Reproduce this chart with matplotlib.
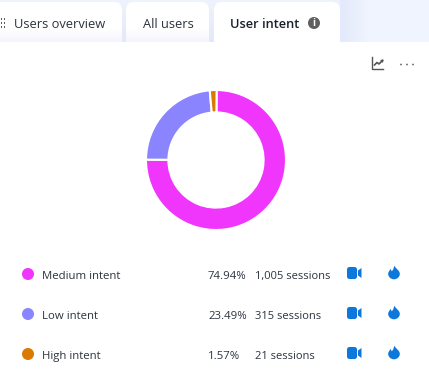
"""User intent donut card with tab strip and legend rows."""

import matplotlib
matplotlib.use("Agg")
import matplotlib.pyplot as plt
import numpy as np
from matplotlib.colors import LinearSegmentedColormap
from matplotlib.patches import Circle, FancyBboxPatch, PathPatch, Polygon, Rectangle
from matplotlib.path import Path

plt.rcParams["font.family"] = ["Open Sans", "DejaVu Sans"]

intent_labels = ["Medium intent", "Low intent", "High intent"]
session_counts = [1005, 315, 21]
share_labels = ["74.94%", "23.49%", "1.57%"]
session_labels = ["1,005 sessions", "315 sessions", "21 sessions"]
intent_colors = ["#f035fd", "#8a84ff", "#da7a00"]
tab_labels = ["Users overview", "All users", "User intent"]

W, H = 429, 384
TEXT = "#2c333e"
BLUE = "#0c78dc"


def gradient(ax, extent, c0, c1, horizontal=False, zorder=1):
    cmap = LinearSegmentedColormap.from_list("g", [c0, c1])
    ramp = np.linspace(0, 1, 64).reshape(-1, 1)
    if horizontal:
        ramp = ramp.T
    ax.imshow(ramp, extent=extent, cmap=cmap, aspect="auto", origin="upper", zorder=zorder, interpolation="bilinear")


def draw_tab(ax, x0, x1):
    ax.add_patch(FancyBboxPatch((x0, 2), x1 - x0, 50, boxstyle="round,pad=0,rounding_size=8",
                                fc="white", ec="none", zorder=2))


def draw_camera(ax, x, y):
    ax.add_patch(FancyBboxPatch((x, y - 6), 10, 12, boxstyle="round,pad=0,rounding_size=2.5",
                                fc=BLUE, ec="none", zorder=5))
    ax.add_patch(Polygon([(x + 11, y - 2.5), (x + 14.5, y - 5), (x + 14.5, y + 5), (x + 11, y + 2.5)],
                         fc=BLUE, ec="none", zorder=5))


def draw_flame(ax, x, y):
    codes = [Path.MOVETO,
             Path.CURVE4, Path.CURVE4, Path.CURVE4,
             Path.CURVE4, Path.CURVE4, Path.CURVE4,
             Path.CURVE4, Path.CURVE4, Path.CURVE4,
             Path.CURVE4, Path.CURVE4, Path.CURVE4,
             Path.LINETO, Path.LINETO, Path.CLOSEPOLY]
    verts = [(x + 0.5, y - 7),
             (x + 1, y - 4), (x + 5.8, y - 2.5), (x + 5.8, y + 1.5),
             (x + 5.8, y + 4.5), (x + 3, y + 6.8), (x, y + 6.8),
             (x - 3, y + 6.8), (x - 5.8, y + 4.5), (x - 5.8, y + 1.5),
             (x - 5.8, y - 0.5), (x - 4.5, y - 2), (x - 3.5, y - 3.5),
             (x - 2.2, y - 1.2), (x - 0.8, y - 3), (x + 0.5, y - 7)]
    ax.add_patch(PathPatch(Path(verts, codes), fc=BLUE, ec="none", zorder=5))


fig = plt.figure(figsize=(W / 100, H / 100), dpi=100)
ax = fig.add_axes([0, 0, 1, 1])

# tab strip, paler at the top, lilac glow around the tabs
gradient(ax, (0, 345, 42, 0), "#eff3fd", "#e3e8fb", zorder=0)
ax.add_patch(Rectangle((345, 0), W - 345, 42, fc="#eff4fe", ec="none", zorder=0))
gradient(ax, (340, 368, 42, 0), "#e4e9fb", "#eff4fe", horizontal=True, zorder=0.5)
draw_tab(ax, -10, 122)
draw_tab(ax, 126, 209)
draw_tab(ax, 214, 340)

# inactive tabs fade to lilac at the bottom
for x0, x1 in ((0, 122), (126, 209)):
    gradient(ax, (x0, x1, 42, 28), "#ffffff", "#f5f4fe", zorder=2.5)
ax.add_patch(Rectangle((0, 42), W, H - 42, fc="white", ec="none", zorder=3))
ax.add_patch(Rectangle((214, 30), 126, 14, fc="white", ec="none", zorder=3))
ax.set_xlim(0, W)
ax.set_ylim(H, 0)
ax.axis("off")

ax.text(14, 28, tab_labels[0], fontsize=9.25, color=TEXT, va="baseline", zorder=4)
ax.text(143, 28, tab_labels[1], fontsize=9.25, color=TEXT, va="baseline", zorder=4)
ax.text(230, 28, tab_labels[2], fontsize=9.2, color="#1a202b", va="baseline", fontweight="semibold", zorder=4)
ax.add_patch(Circle((314, 23), 6, fc="#5f5f5f", ec="none", zorder=4))
ax.text(314, 23, "i", fontsize=7, color="white", ha="center", va="center", fontweight="bold", zorder=5)
for gx in (0.5, 3.5):
    for gy in (19, 23, 27):
        ax.add_patch(Rectangle((gx, gy - 1), 1.6, 1.6, fc="#555b66", ec="none", zorder=4))

# chart icon and more menu
ax.plot([372, 372, 383], [57, 68.5, 68.5], color="#555", lw=1.0, zorder=4)
ax.plot([374.5, 377, 379, 382.5], [65, 62.5, 64, 60.5], color="#555", lw=1.2, zorder=4)
ax.add_patch(Polygon([(380, 60), (383.5, 59.5), (383, 63)], fc="#555", ec="none", zorder=4))
for dx in (401, 407, 413):
    ax.add_patch(Circle((dx, 64.5), 0.9, fc="#666", ec="none", zorder=4))

# legend rows
row_ys = [274, 314, 354]
for y, name, share, sessions, color in zip(row_ys, intent_labels, share_labels, session_labels, intent_colors):
    ax.add_patch(Circle((28, y), 6, fc=color, ec="none", zorder=4))
    ax.text(42, y + 5, name, fontsize=8.2, color=TEXT, va="baseline", zorder=4)
    ax.text(208, y + 5, share, fontsize=8.2, color=TEXT, va="baseline", zorder=4)
    ax.text(255, y + 5, sessions, fontsize=8.0, color=TEXT, va="baseline", zorder=4)
    draw_camera(ax, 347, y - 1)
    draw_flame(ax, 394, y - 1.5)

# donut
cx, cy, r = 216, 160, 70
pie_ax = fig.add_axes([(cx - r) / W, 1 - (cy + r) / H, 2 * r / W, 2 * r / H], zorder=5)
pie_ax.pie(session_counts, colors=intent_colors, startangle=89.5, counterclock=False, radius=1,
           wedgeprops={"width": 0.32, "edgecolor": "white", "linewidth": 1.5})
pie_ax.set_xlim(-1, 1)
pie_ax.set_ylim(-1, 1)
pie_ax.set_aspect("equal")

fig.savefig("out.png", dpi=100)
